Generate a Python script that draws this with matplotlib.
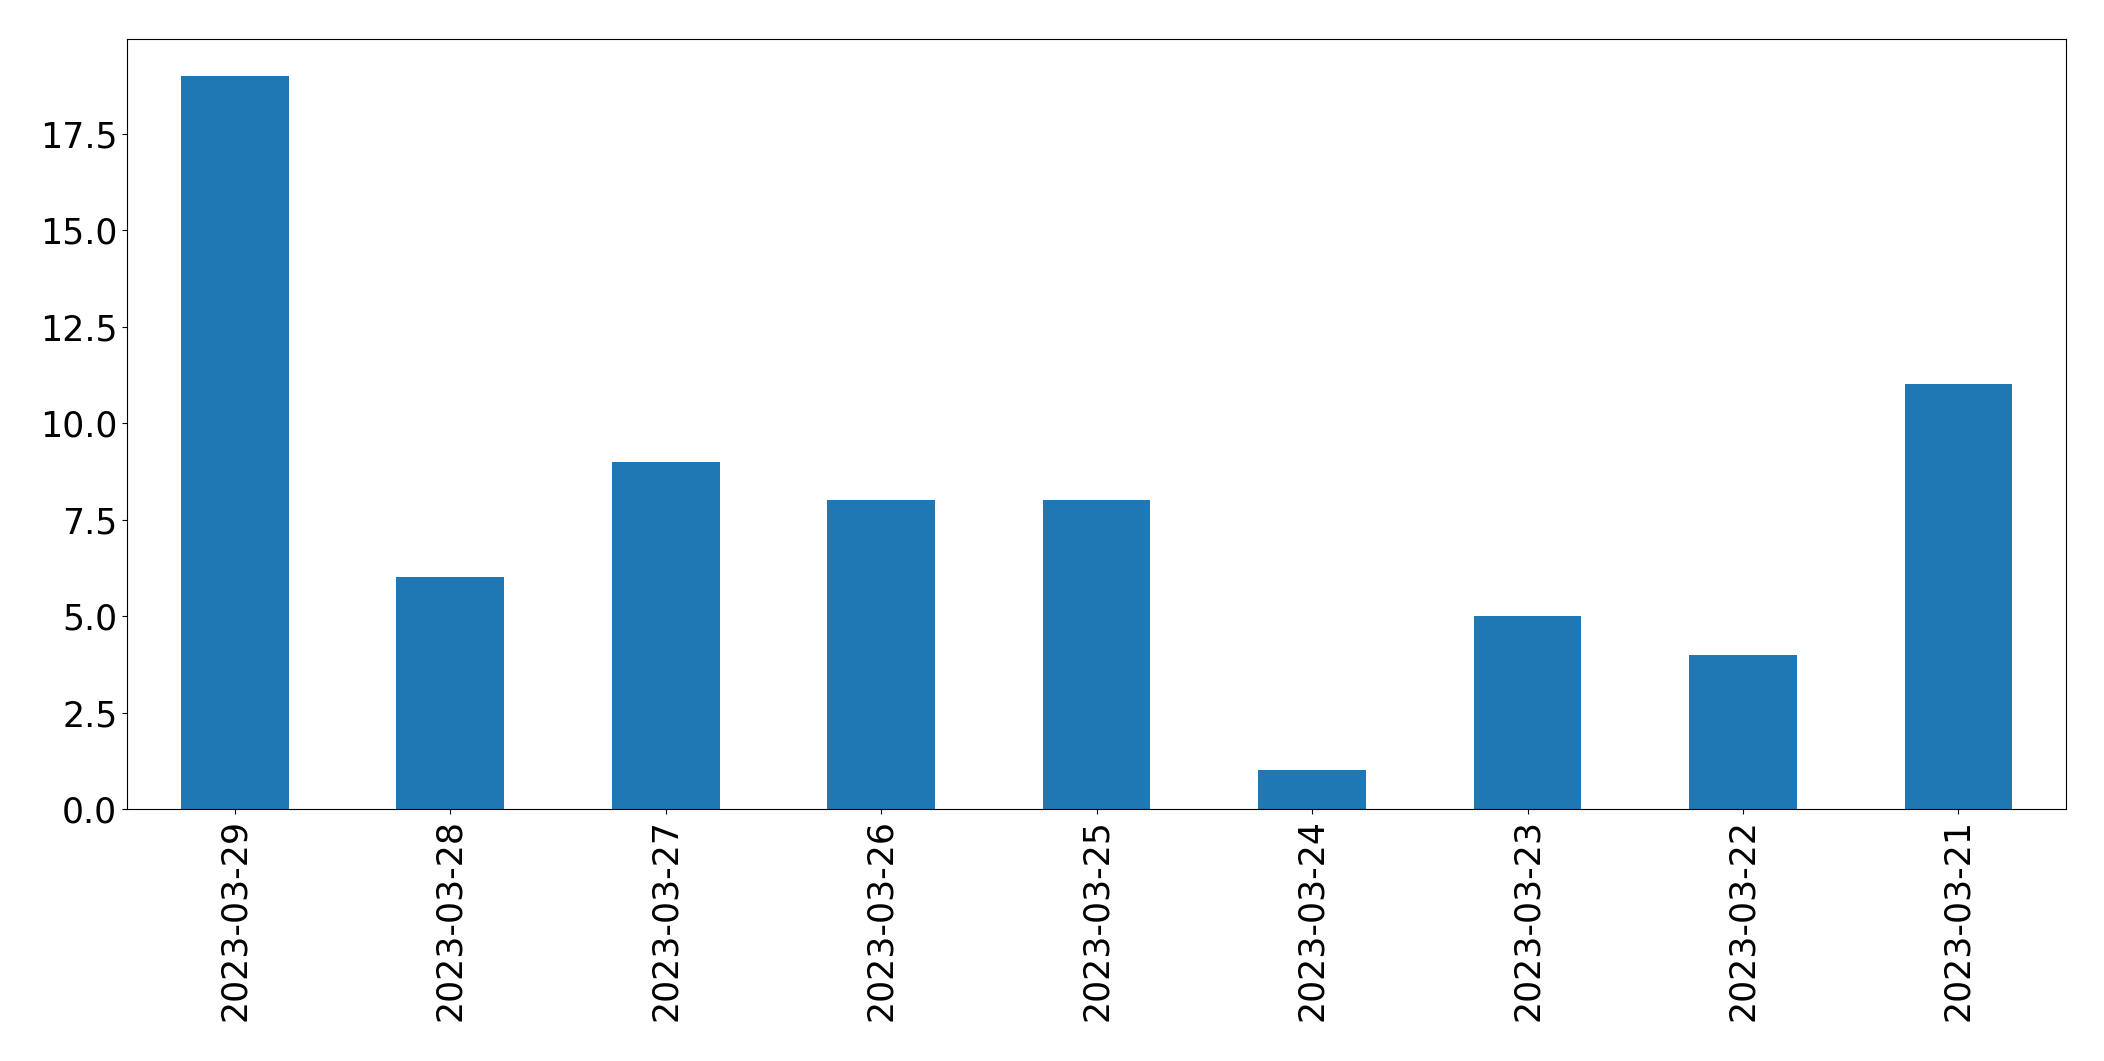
import numpy as np
import matplotlib
matplotlib.use("Agg")
import matplotlib.pyplot as plt

# daily counts, newest first
dates = ['2023-03-29', '2023-03-28', '2023-03-27', '2023-03-26', '2023-03-25',
         '2023-03-24', '2023-03-23', '2023-03-22', '2023-03-21']
counts = [19, 6, 9, 8, 8, 1, 5, 4, 11]

fig = plt.figure(figsize=(21.04, 10.61), dpi=100)
ax = fig.add_axes([0.0604, 0.2375, 0.9216, 0.7258])

x = np.arange(len(dates))
ax.bar(x, counts, width=0.5, color='#1f77b4')
ax.set_xlim(-0.5, len(dates) - 0.5)
ax.set_xticks(x)
ax.set_xticklabels(dates, rotation=90)
ax.tick_params(axis='both', labelsize=25)

fig.savefig('out.png', dpi=100)
